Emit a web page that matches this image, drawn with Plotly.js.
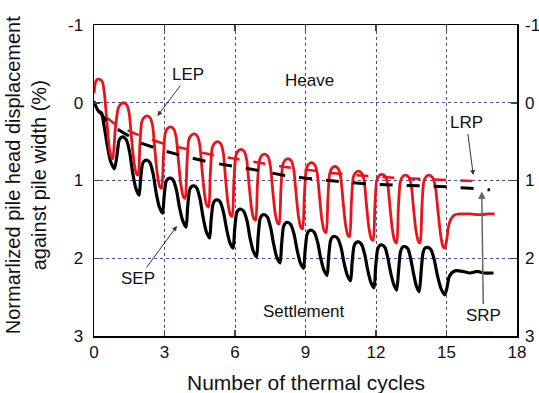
<!DOCTYPE html>
<html><head><meta charset="utf-8">
<script src="https://cdn.plot.ly/plotly-3.0.1.min.js"></script>
<style>html,body{margin:0;padding:0;background:#fff}#chart{width:539px;height:393px}</style>
</head><body><div id="chart"></div>
<script>
// Long-term pile (LEP) head displacement, red
const redX = [0,0.06,0.14,0.26,0.36,0.45,0.55,0.65,0.74,0.8,
 0.9,1.03,1.13,1.26,1.4,1.5,1.6,1.7,1.8,1.88,
 1.95,2.03,2.13,2.26,2.4,2.5,2.6,2.7,2.8,2.88,
 2.95,3.03,3.13,3.26,3.4,3.5,3.6,3.7,3.8,3.88,
 3.95,4.03,4.13,4.26,4.4,4.5,4.6,4.7,4.8,4.88,
 4.95,5.03,5.13,5.26,5.4,5.5,5.6,5.7,5.8,5.88,
 5.95,6.03,6.13,6.26,6.4,6.5,6.6,6.7,6.8,6.88,
 6.95,7.03,7.13,7.26,7.4,7.5,7.6,7.7,7.8,7.88,
 7.95,8.03,8.13,8.26,8.4,8.5,8.6,8.7,8.8,8.88,
 8.95,9.03,9.13,9.26,9.4,9.5,9.6,9.7,9.8,9.88,
 9.95,10.03,10.13,10.26,10.4,10.5,10.6,10.7,10.8,10.88,
 10.95,11.03,11.13,11.26,11.4,11.5,11.6,11.7,11.8,11.88,
 11.95,12.03,12.13,12.26,12.4,12.5,12.6,12.7,12.8,12.88,
 12.95,13.03,13.13,13.26,13.4,13.5,13.6,13.7,13.8,13.88,
 13.95,14.03,14.13,14.26,14.4,14.52,14.64,14.75,14.85,14.92,
 15.0,15.08,15.18,15.35,15.6,16.0,16.4,16.8,17.05];
const redY = [-0.12,-0.26,-0.3,-0.3,-0.27,-0.1,0.25,0.58,0.7,0.72,
 0.36,0.07,0.02,0.0,0.03,0.14,0.47,0.76,0.91,0.93,
 0.55,0.25,0.19,0.17,0.2,0.31,0.64,0.93,1.08,1.1,
 0.71,0.39,0.33,0.31,0.34,0.45,0.77,1.06,1.21,1.23,
 0.82,0.48,0.42,0.4,0.43,0.54,0.87,1.17,1.32,1.34,
 0.92,0.58,0.52,0.5,0.53,0.64,0.98,1.29,1.44,1.46,
 1.03,0.69,0.62,0.6,0.63,0.74,1.06,1.35,1.49,1.51,
 1.09,0.75,0.68,0.66,0.69,0.8,1.11,1.4,1.54,1.56,
 1.14,0.8,0.74,0.72,0.75,0.86,1.17,1.46,1.6,1.62,
 1.2,0.86,0.79,0.77,0.8,0.91,1.22,1.51,1.65,1.67,
 1.25,0.91,0.84,0.82,0.85,0.96,1.27,1.56,1.7,1.72,
 1.3,0.96,0.9,0.88,0.91,1.01,1.33,1.61,1.75,1.77,
 1.35,1.0,0.94,0.92,0.95,1.05,1.36,1.64,1.78,1.8,
 1.37,1.02,0.95,0.93,0.96,1.06,1.37,1.64,1.78,1.8,
 1.37,1.02,0.95,0.93,0.96,1.07,1.4,1.7,1.85,1.87,
 1.78,1.6,1.5,1.44,1.43,1.43,1.44,1.43,1.43];
// Short-term pile (SEP) head displacement, black
const blackX = [0,0.1,0.22,0.32,0.42,0.55,0.7,0.87,
 0.98,1.06,1.14,1.26,1.38,1.52,1.64,1.78,1.92,
 1.98,2.06,2.14,2.26,2.38,2.52,2.64,2.78,2.92,
 2.98,3.06,3.14,3.26,3.38,3.52,3.64,3.78,3.92,
 3.98,4.06,4.14,4.26,4.38,4.52,4.64,4.78,4.92,
 4.98,5.06,5.14,5.26,5.38,5.52,5.64,5.78,5.92,
 5.98,6.06,6.14,6.26,6.38,6.52,6.64,6.78,6.92,
 6.98,7.06,7.14,7.26,7.38,7.52,7.64,7.78,7.92,
 7.98,8.06,8.14,8.26,8.38,8.52,8.64,8.78,8.92,
 8.98,9.06,9.14,9.26,9.38,9.52,9.64,9.78,9.92,
 9.98,10.06,10.14,10.26,10.38,10.52,10.64,10.78,10.92,
 10.98,11.06,11.14,11.26,11.38,11.52,11.64,11.78,11.92,
 11.98,12.06,12.14,12.26,12.38,12.5,12.62,12.76,12.88,
 12.96,13.04,13.12,13.24,13.36,13.48,13.6,13.72,13.84,
 13.92,14.0,14.08,14.2,14.34,14.48,14.62,14.78,14.93,
 15.02,15.1,15.22,15.4,15.7,16.0,16.3,16.6,17.0];
const blackY = [-0.02,0.06,0.12,0.13,0.28,0.52,0.75,0.85,
 0.67,0.49,0.45,0.44,0.48,0.64,0.89,1.1,1.19,
 0.99,0.79,0.75,0.74,0.77,0.92,1.15,1.34,1.42,
 1.22,1.02,0.98,0.97,1.0,1.14,1.35,1.52,1.6,
 1.36,1.13,1.08,1.07,1.1,1.25,1.47,1.66,1.74,
 1.52,1.31,1.26,1.25,1.28,1.42,1.62,1.8,1.87,
 1.65,1.43,1.38,1.37,1.4,1.53,1.74,1.91,1.98,
 1.74,1.5,1.45,1.44,1.47,1.61,1.81,1.99,2.06,
 1.83,1.6,1.55,1.54,1.57,1.7,1.89,2.06,2.13,
 1.91,1.7,1.65,1.64,1.67,1.8,1.99,2.15,2.22,
 2.0,1.78,1.73,1.72,1.75,1.87,2.06,2.22,2.29,
 2.07,1.85,1.8,1.79,1.82,1.95,2.14,2.31,2.38,
 2.13,1.9,1.84,1.83,1.86,1.99,2.18,2.34,2.41,
 2.16,1.92,1.86,1.85,1.88,2.01,2.2,2.36,2.43,
 2.17,1.93,1.87,1.86,1.89,2.02,2.23,2.4,2.47,
 2.38,2.25,2.19,2.16,2.17,2.19,2.17,2.19,2.19];
// Residual trend lines (dashed)
const lrpX = [0.5,1,2,3,4,5,6,7,8,9,10,11,12,13,14,15,16,16.45];
const lrpY = [0.18,0.3,0.43,0.53,0.6,0.67,0.72,0.77,0.82,0.86,0.9,0.93,0.95,0.97,0.98,0.99,1.0,1.01];
const srpX = [0.2,0.5,1,2,3,4,5,6,7,8,9,10,11,12,13,14,15,16,16.85];
const srpY = [0.1,0.22,0.34,0.52,0.62,0.7,0.77,0.82,0.87,0.93,0.97,1.0,1.03,1.05,1.06,1.07,1.08,1.1,1.12];
const xTicks = [0,3,6,9,12,15,18];
const yTicks = [-1,0,1,2,3];

const FONT = 'Liberation Sans, Arial, sans-serif';
const traces = [
  {x: lrpX, y: lrpY, mode:'lines', line:{color:'#e8141c', width:2.5, dash:'12px,14px'}, hoverinfo:'skip'},
  {x: blackX, y: blackY, mode:'lines', line:{color:'#000', width:3.2, shape:'spline', smoothing:0.6}, hoverinfo:'skip'},
  {x: redX, y: redY, mode:'lines', line:{color:'#e8141c', width:2.8, shape:'spline', smoothing:0.6}, hoverinfo:'skip'},
  {x: srpX, y: srpY, mode:'lines', line:{color:'#000', width:3, dash:'13px,14px'}, hoverinfo:'skip'},
  {x: srpX, y: srpY, yaxis:'y2', mode:'lines', line:{width:0}, opacity:0, hoverinfo:'skip'}
];
const grid = '#4b4b9c';
const layout = {
  width:539, height:393, showlegend:false,
  paper_bgcolor:'#fff', plot_bgcolor:'#fff',
  margin:{l:94, r:22, t:25, b:57},
  font:{family:FONT, size:17, color:'#111'},
  xaxis:{range:[0,18], tickvals:xTicks, ticktext:xTicks.map(String), ticks:'inside', ticklen:6, tickwidth:1.5,
    showline:true, linecolor:'#000', linewidth:1.5, mirror:'ticks', showgrid:true, gridcolor:grid, griddash:'dot', gridwidth:1,
    zeroline:false, tickfont:{size:17}},
  yaxis:{range:[3,-1], tickvals:yTicks, ticktext:yTicks.map(String), ticks:'inside', ticklen:6, tickwidth:1.5,
    showline:true, linecolor:'#000', linewidth:1.5, mirror:true, showgrid:true, gridcolor:grid, griddash:'dot', gridwidth:1,
    zeroline:false, tickfont:{size:17}, ticklabelstandoff:6},
  yaxis2:{range:[3,-1], overlaying:'y', side:'right', tickvals:yTicks, ticktext:yTicks.map(String), ticks:'inside', ticklen:6, tickwidth:1.5,
    showline:false, showgrid:false, zeroline:false, tickfont:{size:17}, ticklabelstandoff:7},
  annotations:[
    {xref:'paper', yref:'paper', x:-0.16, y:0.518, text:'Normarlized pile head displacement<br>against pile width (%)', textangle:-90,
     showarrow:false, font:{size:20}, xanchor:'center', yanchor:'middle'},
    {xref:'paper', yref:'paper', x:0.5, y:-0.148, text:'Number of thermal cycles', showarrow:false, font:{size:21}, xanchor:'center', yanchor:'middle'},
    {x:9.16, y:-0.29, text:'Heave', showarrow:false},
    {x:8.95, y:2.69, text:'Settlement', showarrow:false},
    {x:2.7, y:0.17, ax:4.02, ay:-0.36, axref:'x', ayref:'y', text:'LEP', showarrow:true, arrowhead:2, arrowsize:1, arrowwidth:1, arrowcolor:'#333'},
    {x:3.53, y:1.585, ax:1.89, ay:2.26, axref:'x', ayref:'y', text:'SEP', showarrow:true, arrowhead:2, arrowsize:1, arrowwidth:1, arrowcolor:'#333'},
    {x:16.14, y:0.93, ax:15.85, ay:0.26, axref:'x', ayref:'y', text:'LRP', showarrow:true, arrowhead:2, arrowsize:1, arrowwidth:1, arrowcolor:'#333'},
    {x:16.5, y:1.14, ax:16.57, ay:2.73, axref:'x', ayref:'y', text:'SRP', showarrow:true, arrowhead:2, arrowsize:1, arrowwidth:1.5, arrowcolor:'#666'}
  ]
};
Plotly.newPlot('chart', traces, layout, {staticPlot:true, displayModeBar:false});
</script></body></html>
